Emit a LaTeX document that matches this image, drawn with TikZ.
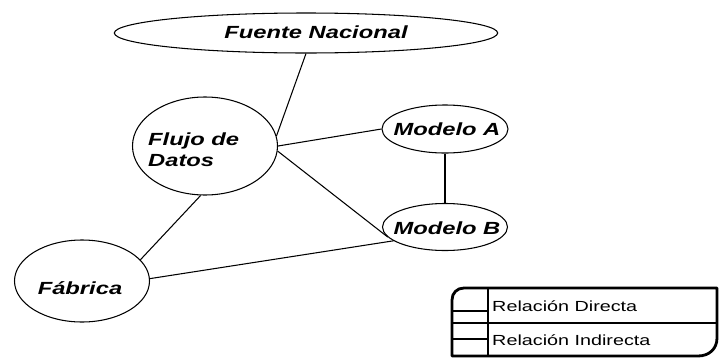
\documentclass[tikz,border=0pt]{standalone}
\usepackage{fontspec}
\setmainfont{Liberation Sans}
\newfontfamily\ancha{Liberation Sans}[FakeStretch=1.35]
\usetikzlibrary{shapes.geometric}

\begin{document}
\begin{tikzpicture}[
    x=0.03cm,y=-0.03cm,
    font=\ancha\fontsize{15}{18}\selectfont\bfseries\itshape,
    entidad/.style={draw,ellipse,line width=0.9pt,inner sep=0pt},
    nombre/.style={inner sep=0pt},
    enlace/.style={line width=0.9pt},
    marco/.style={line width=2.4pt,line join=round},
    rotulo/.style={anchor=west,inner sep=0pt,
      font=\ancha\fontsize{12.5}{14}\selectfont}
  ]
    \fill[white] (0,0) rectangle (719,359);
    \useasboundingbox (0,0) rectangle (719,359);
    % entidades
    \node[entidad,minimum width=11.5cm,minimum height=1.2cm] (fuente)
      at (306,33) {};
    \node[entidad,minimum width=4.35cm,minimum height=2.94cm] (flujo)
      at (205,146) {};
    \node[entidad,minimum width=3.78cm,minimum height=1.44cm] (modeloA)
      at (445,129) {};
    \node[entidad,minimum width=3.75cm,minimum height=1.41cm] (modeloB)
      at (445,227) {};
    \node[entidad,minimum width=4.05cm,minimum height=2.46cm] (fabrica)
      at (82,281) {};
    \node[nombre] (tFuente) at (316,32) {Fuente Nacional};
    \node[nombre,align=left,anchor=west] (tFlujo) at (148,150)
      {Flujo de\\Datos};
    \node[nombre] (tModeloA) at (447,129) {Modelo A};
    \node[nombre] (tModeloB) at (447,228) {Modelo B};
    \node[nombre] (tFabrica) at (80,288) {Fábrica};
    % relaciones
    \draw[enlace] (fuente.south) -- (flujo.8);
    \draw[enlace] (flujo.east) -- (modeloA.west);
    \draw[enlace] (flujo.-4) -- (modeloB.190);
    \draw[enlace] (flujo.-95) -- (fabrica.20);
    \draw[enlace] (fabrica.2) -- (modeloB.195);
    \draw[enlace] (modeloA.south) -- (modeloB.north);
    % leyenda
    \draw[marco] (452,356) -- (452,300) .. controls (452,293) and (457,288)
      .. (464,288) -- (717,288) -- (717,338) .. controls (717,349)
      and (709,356) .. (698,356) -- cycle;
    \draw[marco] (488,288) -- (488,356);
    \draw[marco] (452,323) -- (717,323);
    \draw[line width=1.6pt] (452,311) -- (488,311);
    \draw[line width=1.6pt] (452,339) -- (488,339);
    \node[rotulo] (directa) at (492,306) {Relación Directa};
    \node[rotulo] (indirecta) at (492,340) {Relación Indirecta};
\end{tikzpicture}
\end{document}
